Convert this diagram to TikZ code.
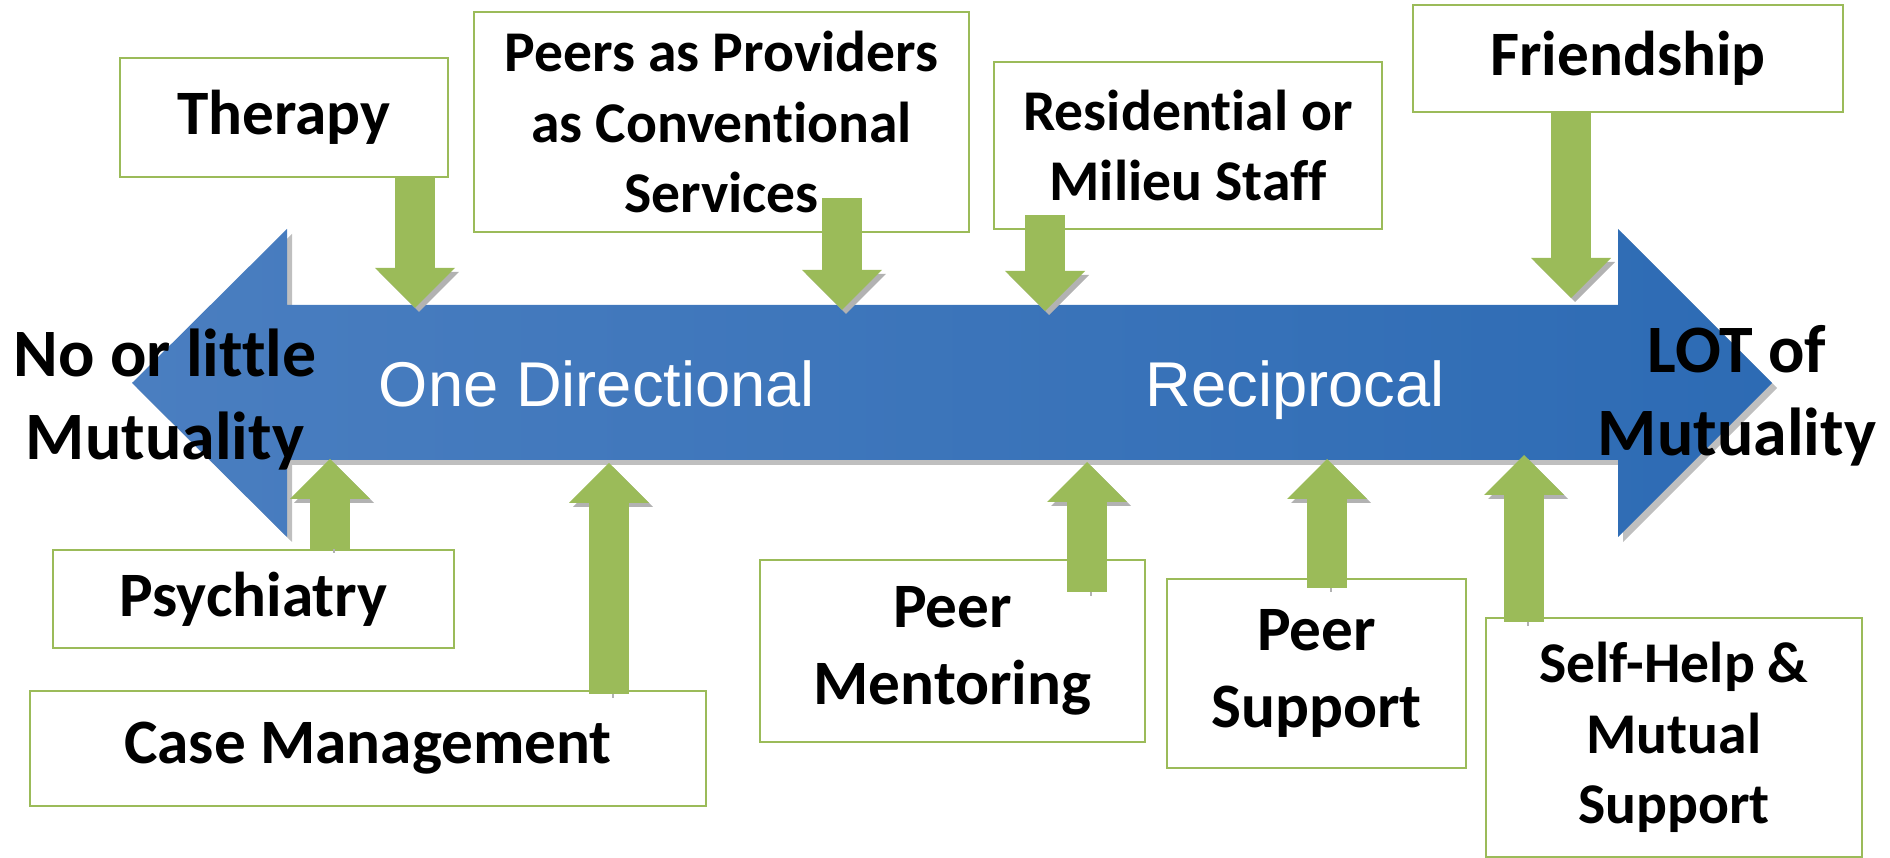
\documentclass[tikz,border=0pt]{standalone}
\usepackage{fontspec}
\setmainfont[Ligatures=NoCommon]{Carlito}
\newfontfamily\bandfont{Liberation Sans}
\usetikzlibrary{arrows.meta,shadows}
\definecolor{leaf}{RGB}{155,187,89}
\definecolor{bandL}{RGB}{74,126,192}
\definecolor{bandM}{RGB}{52,121,201}
\definecolor{bandR}{RGB}{45,107,180}

\begin{document}
\begin{tikzpicture}[
    item/.style={draw=leaf,line width=0.6pt,fill=white,align=center,inner sep=0pt,font=\fontsize{18}{22}\selectfont\bfseries},
    itemsmall/.style={item,font=\fontsize{16.4}{20}\selectfont\bfseries},
    feed/.style={line width=4mm,draw=leaf,-{Triangle[length=4mm,width=8mm,line width=0pt]},preaction={draw=black!30,transform canvas={xshift=0.4mm,yshift=-0.4mm}}},
    pole/.style={align=center,font=\fontsize{19.3}{23.6}\selectfont\bfseries},
    bandtext/.style={anchor=base,text=white,font=\bandfont\fontsize{18}{22}\selectfont}
  ]
    \useasboundingbox (0,0) rectangle (18.9,-8.58);

    % Double-headed band
    \path[left color=bandL,middle color=bandM,right color=bandR,
          drop shadow={shadow xshift=0.5mm,shadow yshift=-0.5mm,fill=black,opacity=0.25}]
      (1.32,-3.83) -- (2.87,-2.29) -- (2.87,-3.05) -- (16.18,-3.05) -- (16.18,-2.29)
      -- (17.72,-3.83) -- (16.18,-5.37) -- (16.18,-4.60) -- (2.87,-4.60) -- (2.87,-5.37) -- cycle;

    % Where the feeds meet the band
    \coordinate (t1) at (4.15,-3.08);
    \coordinate (t2) at (8.42,-3.10);
    \coordinate (t3) at (10.45,-3.11);
    \coordinate (t4) at (15.71,-2.98);
    \coordinate (b1) at (3.30,-4.59);
    \coordinate (b2) at (6.09,-4.63);
    \coordinate (b3) at (10.87,-4.62);
    \coordinate (b4) at (13.27,-4.59);
    \coordinate (b5) at (15.24,-4.55);

    % Services above the band
    \node[item,minimum width=3.28cm,minimum height=1.19cm] (ther) at (2.84,-1.175) {Therapy};
    \node[itemsmall,minimum width=4.95cm,minimum height=2.20cm] (peers) at (7.215,-1.22) {Peers as Providers\\as Conventional\\Services};
    \node[itemsmall,minimum width=3.88cm,minimum height=1.67cm] (resid) at (11.88,-1.455) {Residential or\\Milieu Staff};
    \node[item,minimum width=4.30cm,minimum height=1.07cm] (friend) at (16.28,-0.585) {Friendship};

    % Services below the band
    \node[item,minimum width=4.01cm,minimum height=0.98cm] (psych) at (2.535,-5.99) {Psychiatry};
    \node[item,minimum width=6.76cm,minimum height=1.15cm] (casem) at (3.68,-7.485) {Case Management};
    \node[item,minimum width=3.85cm,minimum height=1.82cm] (mentor) at (9.525,-6.51) {Peer\\Mentoring};
    \node[item,minimum width=2.99cm,minimum height=1.89cm] (psupp) at (13.165,-6.735) {Peer\\Support};
    \node[itemsmall,minimum width=3.76cm,minimum height=2.39cm] (selfh) at (16.74,-7.375) {Self-Help \&\\Mutual\\Support};

    % Feeds into the band
    \draw[feed] (ther.south -| t1) -- (t1);
    \draw[feed] ([yshift=3.5mm]peers.south -| t2) -- (t2);
    \draw[feed] ([yshift=1.5mm]resid.south -| t3) -- (t3);
    \draw[feed] (friend.south -| t4) -- (t4);
    \draw[feed] (psych.north -| b1) -- (b1);
    \draw[feed] ([yshift=-0.4mm]casem.north -| b2) -- (b2);
    \draw[feed] ([yshift=-3.3mm]mentor.north -| b3) -- (b3);
    \draw[feed] ([yshift=-1mm]psupp.north -| b4) -- (b4);
    \draw[feed] ([yshift=-0.5mm]selfh.north -| b5) -- (b5);

    % Labels on and at the ends of the band
    \node[bandtext] (one) at (5.97,-4.07) {One Directional};
    \node[bandtext] (recip) at (12.95,-4.07) {Reciprocal};
    \node[pole] (low) at (1.65,-4.00) {No or little\\Mutuality};
    \node[pole] (high) at (17.37,-3.96) {LOT of\\Mutuality};
  \end{tikzpicture}
\end{document}
